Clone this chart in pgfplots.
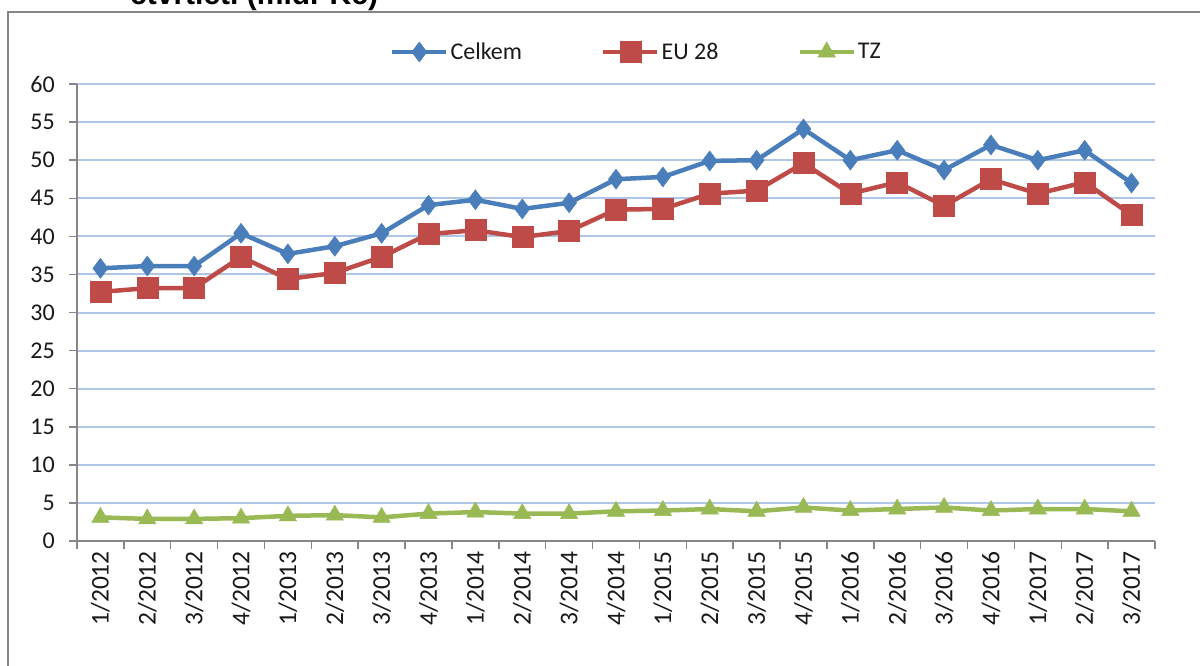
\documentclass[border=0pt]{standalone}
\usepackage{pgfplots}
\pgfplotsset{compat=1.18}
\usepackage{pgfplotstable}
\usepackage{fontspec}
\setmainfont{Carlito}
\newfontfamily\titlefont{Liberation Sans}
\definecolor{cblue}{RGB}{74,126,187}
\definecolor{cred}{RGB}{190,75,72}
\definecolor{cgreen}{RGB}{152,185,84}
\definecolor{axgray}{RGB}{134,134,134}
\definecolor{gridblue}{RGB}{176,198,232}

\pgfplotstableread{
x celkem eu tz
0  35.8 32.7 3.1
1  36.1 33.2 2.9
2  36.1 33.2 2.9
3  40.4 37.3 3.0
4  37.7 34.4 3.3
5  38.7 35.2 3.4
6  40.4 37.3 3.1
7  44.1 40.3 3.6
8  44.8 40.8 3.8
9  43.6 39.9 3.6
10 44.4 40.7 3.6
11 47.5 43.5 3.9
12 47.8 43.6 4.0
13 49.9 45.6 4.2
14 50.0 46.0 3.9
15 54.1 49.6 4.4
16 50.0 45.6 4.0
17 51.3 47.1 4.2
18 48.7 44.0 4.4
19 52.0 47.5 4.0
20 50.0 45.6 4.2
21 51.3 47.1 4.2
22 47.0 42.8 3.9
}\datatable

\begin{document}
\begin{tikzpicture}
\useasboundingbox (0,0) rectangle (1200bp,-666bp);
\node[anchor=base west, inner sep=0, font=\titlefont\bfseries\fontsize{30bp}{36bp}\selectfont] at (130bp,-4bp) {čtvrtletí (mld. Kč)};
\draw[axgray, line width=2bp] (8bp,-680bp) -- (8bp,-12bp) -- (1210bp,-12bp);
\begin{axis}[
  at={(77bp,-541bp)}, anchor=south west,
  scale only axis, width=1078bp, height=457bp,
  xmin=-0.5, xmax=22.5, ymin=0, ymax=60,
  ytick={0,5,...,60},
  xtick={0,...,22},
  xticklabels={1/2012,2/2012,3/2012,4/2012,1/2013,2/2013,3/2013,4/2013,1/2014,2/2014,3/2014,4/2014,1/2015,2/2015,3/2015,4/2015,1/2016,2/2016,3/2016,4/2016,1/2017,2/2017,3/2017},
  minor xtick={-0.5,0.5,...,22.5},
  axis x line*=bottom, axis y line*=left,
  axis line style={draw=axgray, line width=1.5bp, -},
  tick align=outside,
  major tick length=8bp, minor tick length=8bp,
  major x tick style={draw=none},
  minor x tick style={draw=axgray, line width=1.5bp},
  y tick style={draw=axgray, line width=1.5bp},
  ymajorgrids, grid style={draw=gridblue, line width=2bp},
  /pgf/number format/assume math mode=true,
  tick label style={font=\fontsize{24bp}{28bp}\selectfont, text=black!90},
  xticklabel style={rotate=90, anchor=east, inner sep=2bp, font=\fontsize{25.5bp}{28bp}\selectfont},
  yticklabel style={anchor=east, inner sep=2bp, xshift=-12bp},
  legend style={at={(0.519,1.07)}, anchor=center, draw=none, fill=none,
    font=\fontsize{24bp}{28bp}\selectfont, text=black!90, legend columns=-1,
    /tikz/every even column/.append style={column sep=77bp}},
  legend image code/.code={\draw[mark repeat=2,mark phase=2,#1] plot coordinates {(0bp,0bp) (27bp,0bp) (54bp,0bp)};},
]
\addplot[cblue, line width=4.5bp, mark=diamond*, mark size=10bp, mark options={solid, fill=cblue, line width=0.5bp}] table[x=x, y=celkem] {\datatable};
\addlegendentry{Celkem}
\addplot[cred, line width=4.5bp, mark=square*, mark size=10.5bp, mark options={solid, fill=cred, line width=0.5bp}] table[x=x, y=eu] {\datatable};
\addlegendentry{EU 28}
\addplot[cgreen, line width=4.5bp, mark=triangle*, mark size=10bp, mark options={solid, fill=cgreen, line width=0.5bp}] table[x=x, y=tz] {\datatable};
\addlegendentry{TZ}
\end{axis}
\end{tikzpicture}
\end{document}
